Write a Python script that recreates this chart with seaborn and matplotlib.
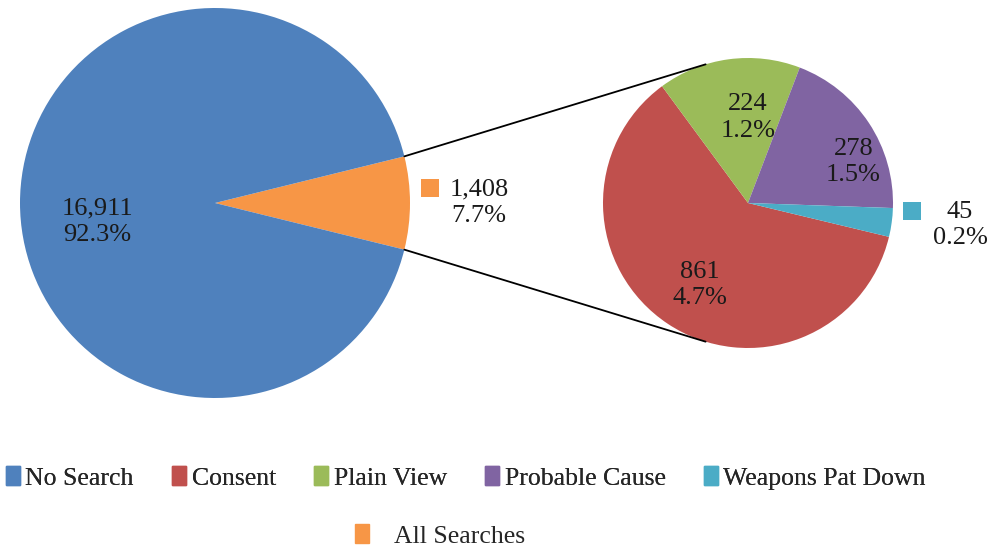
import numpy as np
import matplotlib
matplotlib.use("Agg")
import matplotlib.pyplot as plt
import seaborn as sns
from matplotlib.patches import Patch

# Search outcomes
main_labels = ["No Search", "All Searches"]
main_counts = [16911, 1408]
sub_labels = ["Consent", "Plain View", "Probable Cause", "Weapons Pat Down"]
sub_counts = [861, 224, 278, 45]

main_colors = ["#4F81BD", "#F79646"]
sub_colors = ["#C0504D", "#9BBB59", "#8064A2", "#4BACC6"]

sns.set_theme(style="white")
plt.rcParams["font.family"] = ["Liberation Serif", "DejaVu Serif"]
FS = 19
LFS = 18.5

W, H = 988, 547
fig = plt.figure(figsize=(W / 100, H / 100), dpi=100)
ax = fig.add_axes([0, 0, 1, 1])

total = sum(main_counts)

# Left pie: the searches slice centred on the 3 o'clock direction
lc, lr = (215, 344), 195
search_span = 360 * main_counts[1] / total
ax.pie(main_counts[::-1], colors=main_colors[::-1], center=lc, radius=lr,
       startangle=-search_span / 2, counterclock=True,
       wedgeprops=dict(linewidth=0), frame=True)

# Right pie: breakdown of all searches
rc, rr = (748, 344), 145
start = -13.5
ax.pie(sub_counts, colors=sub_colors, center=rc, radius=rr,
       startangle=start, counterclock=False,
       wedgeprops=dict(linewidth=0), frame=True)
ax.set_xlim(0, W)
ax.set_ylim(0, H)
ax.set_aspect("equal")
ax.axis("off")

def fmt(n):
    return f"{n:,}\n{100 * n / total:.1f}%"

def polar(c, r, ang):
    a = np.deg2rad(ang)
    return c[0] + r * np.cos(a), c[1] + r * np.sin(a)

txt = dict(fontsize=FS, ha="center", va="center", linespacing=1.25,
           multialignment="center", color="#1a1a1a")

# Labels on the left pie
ax.text(*polar(lc, 0.61 * lr, 189), fmt(main_counts[0]), **txt)
ax.text(lc[0] + 264, lc[1], fmt(main_counts[1]), **txt)
ax.scatter([lc[0] + 215], [lc[1] + 15], marker="s", s=170, color=main_colors[1], linewidths=0)

# Labels on the right pie
ax.text(*polar(rc, 0.655 * rr, -120.4), fmt(sub_counts[0]), **txt)
ax.text(*polar(rc, 0.59 * rr, 90), fmt(sub_counts[1]), **txt)
ax.text(*polar(rc, 0.78 * rr, 21.3), fmt(sub_counts[2]), **txt)
ax.text(rc[0] + 212, rc[1] - 22, fmt(sub_counts[3]), **txt)
ax.scatter([rc[0] + 164], [rc[1] - 8], marker="s", s=170, color=sub_colors[3], linewidths=0)

# Connector lines from the searches slice to the breakdown pie
for sgn in (1, -1):
    p0 = polar(lc, lr, sgn * search_span / 2)
    p1 = polar(rc, rr, sgn * 107)
    ax.plot([p0[0], p1[0]], [p0[1], p1[1]], color="black", lw=1.3)

# Legend
handles = [Patch(color=c, label=l) for c, l in zip([main_colors[0]] + sub_colors,
                                                    [main_labels[0]] + sub_labels)]
leg1 = fig.legend(handles=handles, loc="center", bbox_to_anchor=(466 / W, 1 - 478 / H),
                  ncol=5, frameon=False, fontsize=LFS, handlelength=0.55,
                  handleheight=0.75, handletextpad=0.2, columnspacing=1.5,
                  borderaxespad=0, borderpad=0)
fig.add_artist(leg1)
fig.legend(handles=[Patch(color=main_colors[1], label=main_labels[1])], loc="center",
           bbox_to_anchor=(440 / W, 1 - 536 / H), frameon=False, fontsize=LFS,
           handlelength=0.55, handleheight=0.75, handletextpad=1.0,
           borderaxespad=0, borderpad=0)

fig.savefig("out.png", dpi=100)
